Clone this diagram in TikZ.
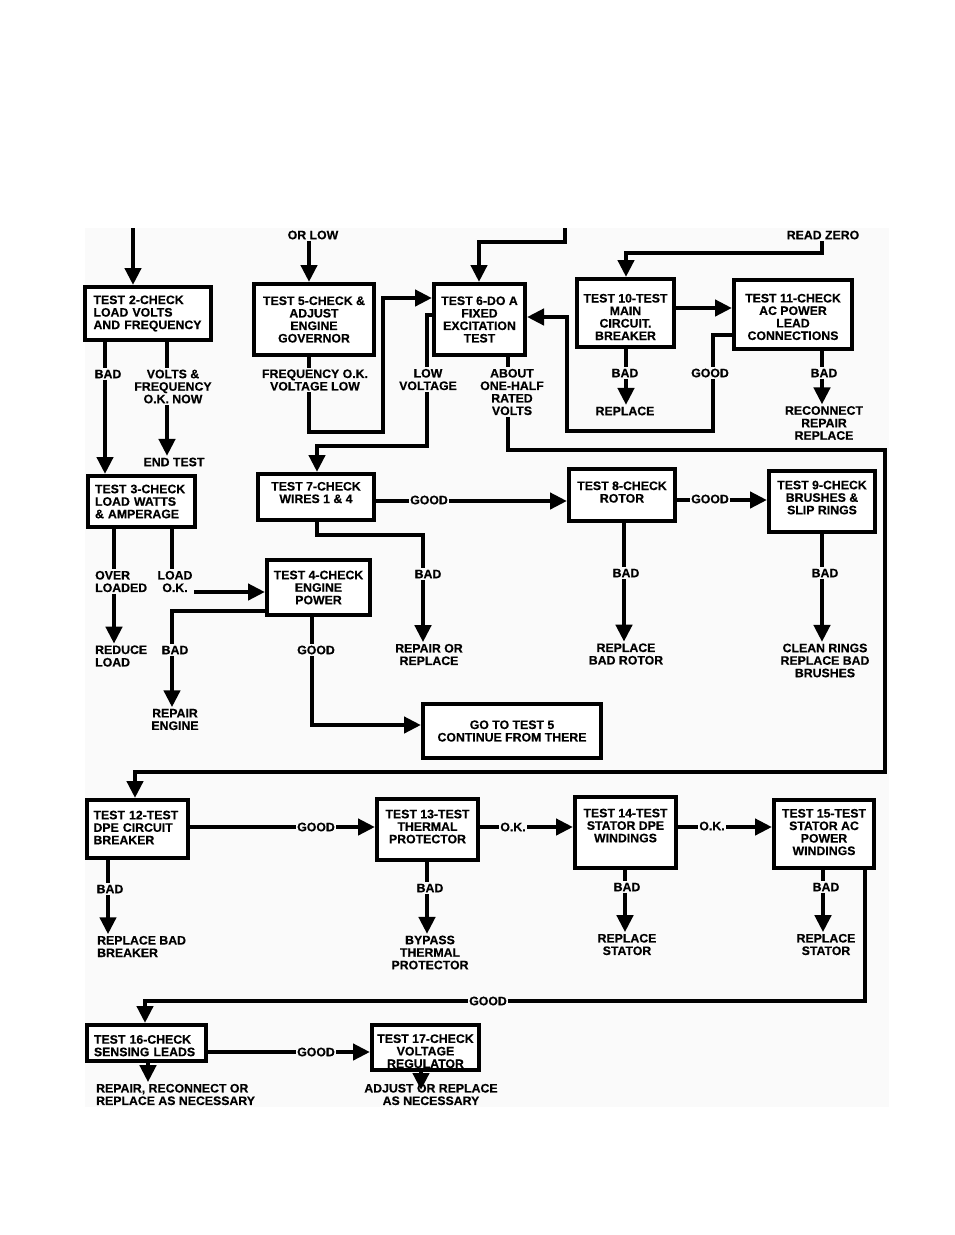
\documentclass[tikz,border=0pt]{standalone}
\usepackage{fontspec}
\setmainfont{Liberation Sans}[BoldFeatures={FakeBold=0.4}]
\usetikzlibrary{arrows.meta}
\begin{document}
\begin{tikzpicture}[x=1pt,y=-1pt,
  every node/.style={font=\bfseries\fontsize{12.3}{12.5}\selectfont},
  box/.style={draw, line width=4pt, fill=white, inner sep=0pt, align=center},
  lab/.style={inner sep=1.5pt, align=center},
  ln/.style={line width=4.5pt, line join=miter},
  arr/.style={ln, -{Triangle[length=17pt,width=16pt]}},
]
\fill[white] (0,0) rectangle (954,1235);
\fill[black!2] (85,228) rectangle (889,1107);
\useasboundingbox (0,0) rectangle (954,1235);

% ---------- boxes ----------
\node[box, minimum width=126pt, minimum height=53pt, text width=109pt, align=left] (b2) at (148,313.5) {TEST 2-CHECK\\LOAD VOLTS\\AND FREQUENCY};
\node[box, minimum width=107pt, minimum height=51pt, text width=93pt, align=left] (b3) at (141.5,501.5) {TEST 3-CHECK\\LOAD WATTS\\\& AMPERAGE};
\node[box, minimum width=103pt, minimum height=55pt] (b4) at (318.5,587.5) {TEST 4-CHECK\\ENGINE\\POWER};
\node[box, minimum width=120pt, minimum height=71pt] (b5) at (314,319.5) {TEST 5-CHECK \&\\ADJUST\\ENGINE\\GOVERNOR};
\node[box, minimum width=91pt, minimum height=71pt] (b6) at (479.5,319.5) {TEST 6-DO A\\FIXED\\EXCITATION\\TEST};
\node[box, minimum width=116pt, minimum height=46pt, text depth=9pt] (b7) at (316,497) {TEST 7-CHECK\\WIRES 1 \& 4};
\node[box, minimum width=106pt, minimum height=52pt, text depth=6pt] (b8) at (622,495) {TEST 8-CHECK\\ROTOR};
\node[box, minimum width=106pt, minimum height=61pt, text depth=8pt] (b9) at (822,501.5) {TEST 9-CHECK\\BRUSHES \&\\SLIP RINGS};
\node[box, minimum width=97pt, minimum height=68pt, text height=54pt] (b10) at (625.5,313) {TEST 10-TEST\\MAIN\\CIRCUIT.\\BREAKER};
\node[box, minimum width=118pt, minimum height=69pt, text height=51pt] (b11) at (793,314.5) {TEST 11-CHECK\\AC POWER\\LEAD\\CONNECTIONS};
\node[box, minimum width=178pt, minimum height=54pt] (go) at (512,731) {GO TO TEST 5\\CONTINUE FROM THERE};
\node[box, minimum width=101pt, minimum height=58pt, text width=88pt, align=left, text depth=28pt] (b12) at (137.5,829) {TEST 12-TEST\\DPE CIRCUIT\\BREAKER};
\node[box, minimum width=101pt, minimum height=61pt, text depth=6pt] (b13) at (427.5,829.5) {TEST 13-TEST\\THERMAL\\PROTECTOR};
\node[box, minimum width=101pt, minimum height=71pt, text depth=14pt] (b14) at (625.5,832.5) {TEST 14-TEST\\STATOR DPE\\WINDINGS};
\node[box, minimum width=100pt, minimum height=68pt, text depth=4pt] (b15) at (824,834) {TEST 15-TEST\\STATOR AC\\POWER\\WINDINGS};
\node[box, minimum width=119pt, minimum height=36pt, text width=105pt, align=left, text height=14pt] (b16) at (146.5,1043) {TEST 16-CHECK\\SENSING LEADS};
\node[box, minimum width=107pt, minimum height=45pt, text height=41pt] (b17) at (425.5,1047.5) {TEST 17-CHECK\\VOLTAGE\\REGULATOR};

% ---------- top entries ----------
\coordinate (s2) at (133,228);
\draw[arr] (s2) -- (s2 |- b2.north);

\node[lab] (lor) at (313,235) {OR LOW};
\coordinate (x309) at (309,0);
\draw[arr] (x309 |- lor.south) -- (x309 |- b5.north);

\coordinate (t6a) at (565,228);
\coordinate (t6b) at (565,242);
\coordinate (t6c) at (479,242);
\draw[arr] (t6a) -- (t6b) -- (t6c) -- (t6c |- b6.north);

\node[lab] (lrz) at (823,235) {READ ZERO};
\coordinate (r1) at (822,253);
\coordinate (r2) at (626,253);
\draw[arr] (r1 |- lrz.south) -- (r1) -- (r2) -- (r2 |- b10.north);

% ---------- test 2 ----------
\node[lab] (lb2) at (108,374) {BAD};
\coordinate (x105) at (105,0);
\draw[ln] (x105 |- b2.south) -- (x105 |- lb2.north);
\draw[arr] (x105 |- lb2.south) -- (x105 |- b3.north);

\node[lab] (lv) at (173,386.5) {VOLTS \&\\FREQUENCY\\O.K. NOW};
\node[lab] (lend) at (174,462) {END TEST};
\coordinate (x167) at (167,0);
\draw[ln] (x167 |- b2.south) -- (x167 |- lv.north);
\draw[arr] (x167 |- lv.south) -- (x167 |- lend.north);

% ---------- test 5 ----------
\node[lab] (lf) at (315,380) {FREQUENCY O.K.\\VOLTAGE LOW};
\draw[ln] (x309 |- b5.south) -- (x309 |- lf.north);
\coordinate (k1) at (309,432);
\coordinate (k2) at (383,432);
\coordinate (k3) at (383,298);
\draw[arr] (x309 |- lf.south) -- (k1) -- (k2) -- (k3) -- (k3 -| b6.west);

% ---------- test 6 ----------
\node[lab] (llow) at (428,379.5) {LOW\\VOLTAGE};
\coordinate (m1) at (427,315);
\coordinate (m2) at (427,446);
\coordinate (m3) at (317,446);
\draw[ln] (m1 -| b6.west) -- (m1) -- (m1 |- llow.north);
\draw[arr] (m1 |- llow.south) -- (m2) -- (m3) -- (m3 |- b7.north);

\node[lab] (la6) at (512,392) {ABOUT\\ONE-HALF\\RATED\\VOLTS};
\coordinate (x508) at (508,0);
\coordinate (n1) at (508,450);
\coordinate (n2) at (885,450);
\coordinate (n3) at (885,772);
\coordinate (n4) at (135,772);
\draw[ln] (x508 |- b6.south) -- (x508 |- la6.north);
\draw[arr] (x508 |- la6.south) -- (n1) -- (n2) -- (n3) -- (n4) -- (n4 |- b12.north);

% ---------- test 10 / 11 ----------
\coordinate (y308) at (0,308);
\draw[arr] (y308 -| b10.east) -- (y308 -| b11.west);

\node[lab] (lb10) at (625,373) {BAD};
\node[lab] (lrep10) at (625,411) {REPLACE};
\coordinate (x626) at (626,0);
\draw[ln] (x626 |- b10.south) -- (x626 |- lb10.north);
\draw[arr] (x626 |- lb10.south) -- (x626 |- lrep10.north);

\node[lab] (lg11) at (710,373) {GOOD};
\coordinate (g1) at (713,335);
\coordinate (g2) at (713,431);
\coordinate (g3) at (567,431);
\coordinate (g4) at (567,317);
\draw[ln] (g1 -| b11.west) -- (g1) -- (g1 |- lg11.north);
\draw[arr] (g1 |- lg11.south) -- (g2) -- (g3) -- (g4) -- (g4 -| b6.east);

\node[lab] (lb11) at (824,373) {BAD};
\node[lab] (lrec) at (824,423) {RECONNECT\\REPAIR\\REPLACE};
\coordinate (x822) at (822,0);
\draw[ln] (x822 |- b11.south) -- (x822 |- lb11.north);
\draw[arr] (x822 |- lb11.south) -- (x822 |- lrec.north);

% ---------- test 3 ----------
\node[lab, align=left, anchor=west] (lov) at (93.5,581.5) {OVER\\LOADED};
\node[lab, align=left, anchor=west] (lred) at (93.5,656) {REDUCE\\LOAD};
\coordinate (x114) at (114,0);
\draw[ln] (x114 |- b3.south) -- (x114 |- lov.north);
\draw[arr] (x114 |- lov.south) -- (x114 |- lred.north);

\node[lab] (lld) at (175,581.5) {LOAD\\O.K.};
\coordinate (x172) at (172,0);
\coordinate (o1) at (0,592);
\draw[ln] (x172 |- b3.south) -- (x172 |- lld.north);
\draw[arr] (o1 -| lld.east) -- (o1 -| b4.west);

% ---------- test 4 ----------
\node[lab] (lb4) at (175,650) {BAD};
\node[lab] (lre) at (175,719.5) {REPAIR\\ENGINE};
\coordinate (q1) at (172,611);
\draw[ln] (q1 -| b4.west) -- (q1) -- (q1 |- lb4.north);
\draw[arr] (q1 |- lb4.south) -- (q1 |- lre.north);

\node[lab] (lg4) at (316,650) {GOOD};
\coordinate (x312) at (312,0);
\coordinate (p1) at (312,725);
\draw[ln] (x312 |- b4.south) -- (x312 |- lg4.north);
\draw[arr] (x312 |- lg4.south) -- (p1) -- (p1 -| go.west);

% ---------- test 7 ----------
\node[lab] (lg7) at (429,500) {GOOD};
\coordinate (y501) at (0,501);
\draw[ln] (y501 -| b7.east) -- (y501 -| lg7.west);
\draw[arr] (y501 -| lg7.east) -- (y501 -| b8.west);

\node[lab] (lb7) at (428,574) {BAD};
\node[lab] (lrr) at (429,654.5) {REPAIR OR\\REPLACE};
\coordinate (h1) at (317,535);
\coordinate (h2) at (423,535);
\draw[ln] (h1 |- b7.south) -- (h1) -- (h2) -- (h2 |- lb7.north);
\draw[arr] (h2 |- lb7.south) -- (h2 |- lrr.north);

% ---------- test 8 ----------
\node[lab] (lg8) at (710,499) {GOOD};
\coordinate (y500) at (0,500);
\draw[ln] (y500 -| b8.east) -- (y500 -| lg8.west);
\draw[arr] (y500 -| lg8.east) -- (y500 -| b9.west);

\node[lab] (lb8) at (626,573) {BAD};
\node[lab] (lrbr) at (626,654) {REPLACE\\BAD ROTOR};
\coordinate (x624) at (624,0);
\draw[ln] (x624 |- b8.south) -- (x624 |- lb8.north);
\draw[arr] (x624 |- lb8.south) -- (x624 |- lrbr.north);

% ---------- test 9 ----------
\node[lab] (lb9) at (825,573) {BAD};
\node[lab] (lcr) at (825,660.5) {CLEAN RINGS\\REPLACE BAD\\BRUSHES};
\draw[ln] (x822 |- b9.south) -- (x822 |- lb9.north);
\draw[arr] (x822 |- lb9.south) -- (x822 |- lcr.north);

% ---------- test 12 ----------
\node[lab] (lg12) at (316,827) {GOOD};
\coordinate (y827) at (0,827);
\draw[ln] (y827 -| b12.east) -- (y827 -| lg12.west);
\draw[arr] (y827 -| lg12.east) -- (y827 -| b13.west);

\node[lab] (lb12) at (110,889) {BAD};
\node[lab, align=left, anchor=west] (lrbb) at (95.5,946.5) {REPLACE BAD\\BREAKER};
\coordinate (x108) at (108,0);
\draw[ln] (x108 |- b12.south) -- (x108 |- lb12.north);
\draw[arr] (x108 |- lb12.south) -- (x108 |- lrbb.north);

% ---------- test 13 ----------
\node[lab] (lb13) at (430,888) {BAD};
\node[lab] (lbyp) at (430,952.5) {BYPASS\\THERMAL\\PROTECTOR};
\coordinate (x427) at (427,0);
\draw[ln] (x427 |- b13.south) -- (x427 |- lb13.north);
\draw[arr] (x427 |- lb13.south) -- (x427 |- lbyp.north);

\node[lab] (lok13) at (513,827) {O.K.};
\draw[ln] (y827 -| b13.east) -- (y827 -| lok13.west);
\draw[arr] (y827 -| lok13.east) -- (y827 -| b14.west);

% ---------- test 14 ----------
\node[lab] (lb14) at (627,887) {BAD};
\node[lab] (lrs14) at (627,944.5) {REPLACE\\STATOR};
\coordinate (x625) at (625,0);
\draw[ln] (x625 |- b14.south) -- (x625 |- lb14.north);
\draw[arr] (x625 |- lb14.south) -- (x625 |- lrs14.north);

\node[lab] (lok14) at (712,826) {O.K.};
\draw[ln] (y827 -| b14.east) -- (y827 -| lok14.west);
\draw[arr] (y827 -| lok14.east) -- (y827 -| b15.west);

% ---------- test 15 ----------
\node[lab] (lb15) at (826,887) {BAD};
\node[lab] (lrs15) at (826,944.5) {REPLACE\\STATOR};
\coordinate (x823) at (823,0);
\draw[ln] (x823 |- b15.south) -- (x823 |- lb15.north);
\draw[arr] (x823 |- lb15.south) -- (x823 |- lrs15.north);

\node[lab] (lg15) at (488,1001) {GOOD};
\coordinate (w1) at (865,1001);
\coordinate (w2) at (145,1001);
\draw[ln] (w1 |- b15.south) -- (w1) -- (w1 -| lg15.east);
\draw[arr] (w1 -| lg15.west) -- (w2) -- (w2 |- b16.north);

% ---------- test 16 / 17 ----------
\node[lab] (lg16) at (316,1052) {GOOD};
\coordinate (y1052) at (0,1052);
\draw[ln] (y1052 -| b16.east) -- (y1052 -| lg16.west);
\draw[arr] (y1052 -| lg16.east) -- (y1052 -| b17.west);

\node[lab, align=left, anchor=west] (lrrc) at (94.5,1094.5) {REPAIR, RECONNECT OR\\REPLACE AS NECESSARY};
\coordinate (x148) at (148,0);
\draw[arr] (x148 |- b16.south) -- (x148 |- lrrc.north);

\node[lab] (lad) at (431,1094.5) {ADJUST OR REPLACE\\AS NECESSARY};
\coordinate (e17) at (421,1090);
\draw[arr] (e17 |- b17.south) -- (e17);
\end{tikzpicture}
\end{document}
